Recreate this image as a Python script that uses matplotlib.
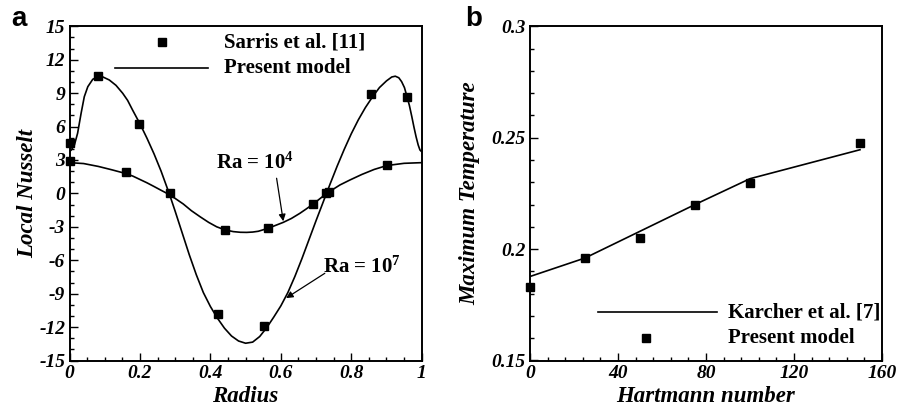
import matplotlib
matplotlib.use("Agg")
import matplotlib.pyplot as plt
from matplotlib.ticker import MultipleLocator, FuncFormatter

plt.rcParams['axes.unicode_minus'] = False
plt.rcParams['mathtext.fontset'] = 'custom'
plt.rcParams['mathtext.rm'] = 'Liberation Serif:bold'
plt.rcParams['mathtext.bf'] = 'Liberation Serif:bold'
plt.rcParams['mathtext.it'] = 'Liberation Serif:bold'
SERIF = ['Liberation Serif', 'DejaVu Serif']

# ---------------- Panel a data ----------------
ra7_r = [0.0, 0.005, 0.014, 0.023, 0.033, 0.042, 0.052, 0.066, 0.08, 0.095, 0.113, 0.132,
         0.151, 0.165, 0.179, 0.2, 0.22, 0.24, 0.26, 0.283, 0.3, 0.32, 0.34, 0.36, 0.38,
         0.4, 0.42, 0.44, 0.46, 0.48, 0.5, 0.52, 0.54, 0.56, 0.58, 0.6, 0.62, 0.64,
         0.66, 0.68, 0.7, 0.72, 0.74, 0.76, 0.78, 0.8, 0.82, 0.84, 0.86, 0.88, 0.9,
         0.915, 0.925, 0.935, 0.943, 0.951, 0.957, 0.965, 0.972, 0.978, 0.984, 0.99,
         0.995, 1.0]
ra7_nu = [3.74, 3.9, 4.35, 5.4, 7.2, 8.68, 9.58, 10.24, 10.48, 10.45, 10.18, 9.7,
          8.99, 8.35, 7.49, 6.25, 4.95, 3.55, 2.0, 0.0, -1.6, -3.55, -5.5, -7.3, -8.9,
          -10.15, -11.2, -12.1, -12.8, -13.25, -13.45, -13.35, -12.85, -12.05, -11.1, -10.1, -8.9, -7.45,
          -5.85, -4.15, -2.45, -0.8, 0.85, 2.45, 3.95, 5.35, 6.6, 7.7, 8.65, 9.5, 10.1,
          10.45, 10.52, 10.38, 10.03, 9.5, 8.83, 7.9, 6.88, 5.95, 5.09, 4.35,
          3.9, 3.74]

ra4_r = [0.0, 0.04, 0.082, 0.12, 0.158, 0.18, 0.2, 0.22, 0.24, 0.26, 0.28, 0.3, 0.323,
         0.346, 0.371, 0.395, 0.418, 0.442, 0.465, 0.485, 0.503, 0.52, 0.536, 0.565,
         0.607, 0.63, 0.654, 0.672, 0.692, 0.71, 0.73, 0.75, 0.768, 0.796, 0.83, 0.865,
         0.901, 0.95, 1.0]
ra4_nu = [2.76, 2.68, 2.42, 2.12, 1.8, 1.55, 1.25, 0.95, 0.62, 0.28, -0.05, -0.45, -0.95,
          -1.55, -2.1, -2.6, -3.0, -3.28, -3.43, -3.49, -3.5, -3.47, -3.4, -3.12,
          -2.6, -2.25, -1.79, -1.4, -0.95, -0.5, 0.0, 0.4, 0.76, 1.2, 1.7, 2.15,
          2.5, 2.7, 2.76]

sarris_r = [0.0, 0.0, 0.082, 0.198, 0.16, 0.284, 0.442, 0.421, 0.563, 0.552,
            0.691, 0.729, 0.737, 0.856, 0.901, 0.958]
sarris_nu = [4.5, 2.9, 10.5, 6.2, 1.9, 0.0, -3.3, -10.8, -3.1, -11.9,
             -0.95, 0.0, 0.12, 8.9, 2.55, 8.65]

# ---------------- Panel b data ----------------
karcher_ha = [0, 25, 50, 75, 100, 150]
karcher_t = [0.1877, 0.196, 0.208, 0.220, 0.2316, 0.2446]
present_ha = [0, 25, 50, 75, 100, 150]
present_t = [0.1829, 0.196, 0.2049, 0.2196, 0.2296, 0.2476]

W, H = 897, 407
fig = plt.figure(figsize=(W / 100, H / 100), dpi=100)

def box(l, t, r, b):
    return [l / W, 1 - b / H, (r - l) / W, (b - t) / H]

ax1 = fig.add_axes(box(69.5, 26.3, 421.7, 360.5))
ax2 = fig.add_axes(box(530, 26.3, 882, 360.5))

labfont = dict(family=SERIF, weight='bold', style='italic', size=16.5)
legfont = dict(family=SERIF, weight='bold', size=15)

def style_axes(ax):
    for s in ax.spines.values():
        s.set_linewidth(1.4)
    ax.tick_params(which='both', direction='in', top=False, right=False, width=1.0)
    ax.tick_params(which='major', length=6, pad=3)
    ax.tick_params(which='minor', length=3)
    for lab in ax.get_xticklabels() + ax.get_yticklabels():
        lab.set_fontfamily(SERIF)
        lab.set_fontweight('bold')
        lab.set_fontstyle('italic')
        lab.set_fontsize(14)

# ---- Panel a ----
ax1.plot(ra7_r, ra7_nu, color='black', lw=1.2)
ax1.plot(ra4_r, ra4_nu, color='black', lw=1.2)
ax1.plot(sarris_r, sarris_nu, 's', color='black', ms=5.5, clip_on=False, zorder=5)
ax1.set_xlim(0, 1)
ax1.set_ylim(-15, 15)
ax1.xaxis.set_major_locator(MultipleLocator(0.2))
ax1.xaxis.set_minor_locator(MultipleLocator(0.05))
ax1.yaxis.set_major_locator(MultipleLocator(3))
ax1.yaxis.set_minor_locator(MultipleLocator(1))
ax1.xaxis.set_major_formatter(FuncFormatter(lambda v, p: '%g' % round(v, 2)))
ax1.yaxis.set_major_formatter(FuncFormatter(lambda v, p: '%d' % round(v)))
style_axes(ax1)
ax1.set_xlabel('Radius', **labfont)
ax1.set_ylabel('Local Nusselt', **labfont)
ax1.xaxis.label.set_va('center')
ax1.yaxis.label.set_va('center')
ax1.xaxis.set_label_coords(0.5, -0.109)
ax1.yaxis.set_label_coords(-0.118, 0.5)

# legend a (manual)
ax1.plot([0.263], [13.55], 's', color='black', ms=5.5)
ax1.plot([0.128, 0.392], [11.3, 11.3], color='black', lw=1.2)
ax1.text(0.438, 13.55, 'Sarris et al. [11]', va='center', ha='left', **legfont)
ax1.text(0.438, 11.3, 'Present model', va='center', ha='left', **legfont)

ax1.text(0.527, 2.7, 'Ra = 10$^{4}$', ha='center', va='center', **legfont)
ax1.annotate('', xy=(0.607, -2.5), xytext=(0.588, 1.36),
             arrowprops=dict(arrowstyle='-|>', color='black', lw=0.9,
                             mutation_scale=10, shrinkA=0, shrinkB=0))
ax1.text(0.83, -6.6, 'Ra = 10$^{7}$', ha='center', va='center', **legfont)
ax1.annotate('', xy=(0.615, -9.4), xytext=(0.725, -7.17),
             arrowprops=dict(arrowstyle='-|>', color='black', lw=0.9,
                             mutation_scale=10, shrinkA=0, shrinkB=0))

# ---- Panel b ----
ax2.plot(karcher_ha, karcher_t, color='black', lw=1.2)
ax2.plot(present_ha, present_t, 's', color='black', ms=5.5, clip_on=False, zorder=5)
ax2.set_xlim(0, 160)
ax2.set_ylim(0.15, 0.3)
ax2.xaxis.set_major_locator(MultipleLocator(40))
ax2.xaxis.set_minor_locator(MultipleLocator(8))
ax2.yaxis.set_major_locator(MultipleLocator(0.05))
ax2.yaxis.set_minor_locator(MultipleLocator(0.01))
ax2.xaxis.set_major_formatter(FuncFormatter(lambda v, p: '%d' % round(v)))
ax2.yaxis.set_major_formatter(FuncFormatter(lambda v, p: '%g' % round(v, 3)))
style_axes(ax2)
ax2.set_xlabel('Hartmann number', **labfont)
ax2.set_ylabel('Maximum Temperature', **labfont)
ax2.xaxis.label.set_va('center')
ax2.yaxis.label.set_va('center')
ax2.xaxis.set_label_coords(0.5, -0.109)
ax2.yaxis.set_label_coords(-0.170, 0.5)

ax2.plot([31, 85], [0.1717, 0.1717], color='black', lw=1.2)
ax2.plot([52.5], [0.1600], 's', color='black', ms=5.5)
ax2.text(90, 0.1717, 'Karcher et al. [7]', va='center', ha='left', **legfont)
ax2.text(90, 0.1600, 'Present model', va='center', ha='left', **legfont)

fig.text(19 / W, 1 - 19 / H, 'a', ha='center', va='center', fontsize=20,
         fontweight='bold', family=['Liberation Sans', 'DejaVu Sans'])
fig.text(474 / W, 1 - 19 / H, 'b', ha='center', va='center', fontsize=20,
         fontweight='bold', family=['Liberation Sans', 'DejaVu Sans'])

fig.savefig('out.png', dpi=100)
